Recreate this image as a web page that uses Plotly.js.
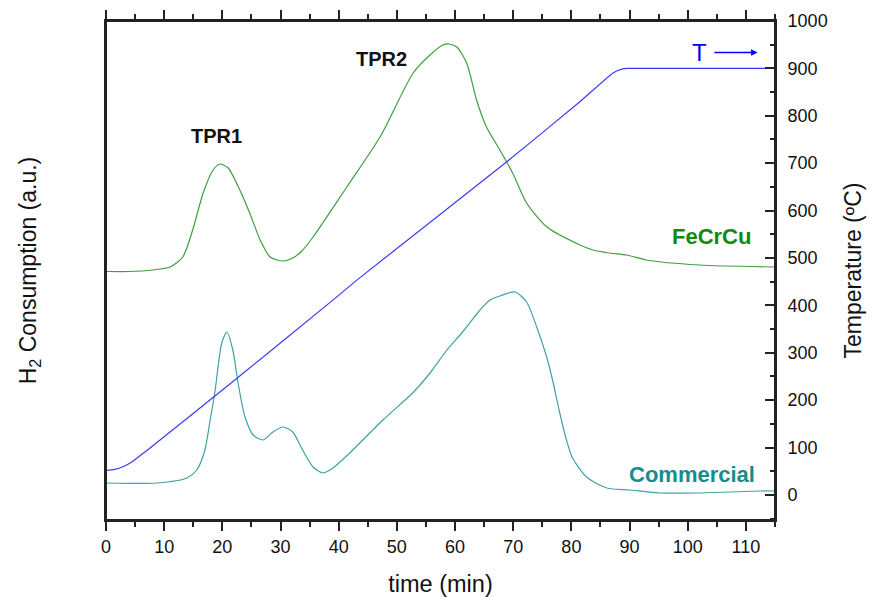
<!DOCTYPE html>
<html>
<head>
<meta charset="utf-8">
<script src="https://cdn.plot.ly/plotly-3.0.1.min.js"></script>
<style>html,body{margin:0;padding:0;background:#fff;}#chart{width:872px;height:597px;}</style>
</head>
<body>
<div id="chart"></div>
<script>
// FeCrCu H2 consumption (a.u.)
const fecrcuTime = [0, 4, 8, 11, 13.2, 14.9, 16.7, 18.4, 19.6, 21.0, 23.0, 24.7, 26.5, 28.2, 30.4, 32.1, 33.5, 35.6, 41.4, 47.1, 52.8, 55.7, 57.9, 58.9, 60.3, 62.0, 63.7, 65.4, 67.7, 69.9, 72.3, 75.8, 81.5, 83.7, 86.5, 89.5, 92.9, 101.9, 115];
const fecrcuH2   = [248.5, 248.5, 250, 253, 263, 290, 327, 350, 356, 352, 330, 307, 280, 263, 259, 262, 268, 283, 333, 383, 447, 465, 475, 476, 473, 457, 420, 393, 370, 347, 317, 293, 275, 270, 267, 265, 260, 255, 253];

// Commercial H2 consumption (a.u.)
const commTime = [0, 8.8, 13.9, 15.6, 17.0, 17.9, 18.7, 19.9, 20.8, 21.8, 22.7, 23.9, 25.3, 27.0, 28.7, 30.4, 32.1, 33.8, 35.6, 37.3, 39.0, 41.9, 47.6, 52.7, 55.7, 58.6, 61.3, 64.3, 66.0, 67.7, 70.3, 72.3, 74.1, 75.8, 76.8, 78.0, 79.2, 80.2, 82.6, 86.1, 90.0, 95.2, 101.5, 107.2, 112.4, 115];
const commH2   = [37, 37, 42, 50, 70, 100, 127, 177, 188, 170, 137, 103, 85, 80, 88, 93, 88, 70, 53, 47, 52, 67, 100, 127, 147, 170, 188, 210, 220, 224, 228, 218, 192, 162, 139, 107, 79, 62, 43, 32, 30, 27, 27, 28, 29, 29];

// Temperature (ºC)
const tempTime = [0, 1.5, 3, 4.5, 6, 8, 14.4, 22.2, 39, 43.6, 68.9, 81.4, 87.1, 88.5, 89.5, 91, 115];
const tempC    = [52, 54, 60, 70, 84, 103, 166, 243, 411, 458, 703, 829, 890, 898, 900, 900, 900];

const xTicks = [0, 10, 20, 30, 40, 50, 60, 70, 80, 90, 100, 110];
const yTicks = [0, 100, 200, 300, 400, 500, 600, 700, 800, 900, 1000];

const FONT = '"Liberation Sans", Arial, sans-serif';

const traces = [
  {x: fecrcuTime, y: fecrcuH2, type: 'scatter', mode: 'lines', name: 'FeCrCu',
   line: {color: '#3f9f3f', width: 1.2, shape: 'spline', smoothing: 0.7}, yaxis: 'y'},
  {x: commTime, y: commH2, type: 'scatter', mode: 'lines', name: 'Commercial',
   line: {color: '#3fa3a3', width: 1.2, shape: 'spline', smoothing: 0.7}, yaxis: 'y'},
  {x: tempTime, y: tempC, type: 'scatter', mode: 'lines', name: 'T',
   line: {color: '#3a3aff', width: 1.2, shape: 'spline', smoothing: 0.5}, yaxis: 'y2'}
];

const layout = {
  width: 872, height: 597,
  margin: {l: 106, r: 97, t: 21, b: 77},
  paper_bgcolor: '#fff', plot_bgcolor: '#fff',
  showlegend: false,
  font: {family: FONT, color: '#111', size: 18},
  xaxis: {
    range: [0, 115], tickvals: xTicks, ticks: 'outside', ticklen: 9, tickwidth: 2, tickcolor: '#222',
    minor: {dtick: 5, tick0: 0, ticks: 'outside', ticklen: 5, tickwidth: 2, tickcolor: '#222', showgrid: false},
    showline: true, linewidth: 2, linecolor: '#222', mirror: 'all',
    showgrid: false, zeroline: false,
    tickfont: {size: 18, family: FONT, color: '#111'},
    title: {text: 'time (min)', font: {size: 23.5, family: FONT, color: '#111'}, standoff: 21}
  },
  yaxis: {
    range: [0, 499], showticklabels: false, ticks: '',
    showline: true, linewidth: 2, linecolor: '#222', mirror: false,
    showgrid: false, zeroline: false,
    title: {text: 'H<sub>2</sub> Consumption (a.u.)', font: {size: 23, family: FONT, color: '#111'}, standoff: 61}
  },
  yaxis2: {
    overlaying: 'y', side: 'right', range: [-53, 1000], tickvals: yTicks,
    ticks: 'inside', ticklen: 10, tickwidth: 2, tickcolor: '#222',
    minor: {dtick: 50, tick0: 0, ticks: 'inside', ticklen: 5, tickwidth: 2, tickcolor: '#222', showgrid: false},
    showline: true, linewidth: 2, linecolor: '#222',
    showgrid: false, zeroline: false, ticklabelstandoff: 7,
    tickfont: {size: 18, family: FONT, color: '#111'},
    title: {text: 'Temperature (ºC)', font: {size: 23, family: FONT, color: '#111'}, standoff: 18}
  },
  shapes: [
    {type: 'rect', xref: 'paper', yref: 'paper', x0: 0, x1: 1, y0: 0, y1: 1, layer: 'above',
     fillcolor: 'rgba(0,0,0,0)', line: {color: '#222', width: 2}}
  ],
  annotations: [
    {text: '<b>TPR1</b>', x: 19.0, y: 384, xref: 'x', yref: 'y', showarrow: false,
     font: {size: 20, family: FONT, color: '#111'}},
    {text: '<b>TPR2</b>', x: 47.4, y: 461, xref: 'x', yref: 'y', showarrow: false,
     font: {size: 20, family: FONT, color: '#111'}},
    {text: '<b>FeCrCu</b>', x: 104.0, y: 284, xref: 'x', yref: 'y', showarrow: false,
     font: {size: 22, family: FONT, color: '#128a12'}},
    {text: '<b>Commercial</b>', x: 100.7, y: 46, xref: 'x', yref: 'y', showarrow: false,
     font: {size: 22, family: FONT, color: '#168c8c'}},
    {text: 'T', x: 112.0, y: 467.5, ax: 102.0, ay: 467.5, xref: 'x', yref: 'y', axref: 'x', ayref: 'y',
     showarrow: true, arrowhead: 2, arrowsize: 1, arrowwidth: 1.3, arrowcolor: '#0000ff', startstandoff: 6,
     font: {size: 24, family: FONT, color: '#0000ff'}}
  ]
};

Plotly.newPlot('chart', traces, layout, {staticPlot: true, displayModeBar: false});
</script>
</body>
</html>
